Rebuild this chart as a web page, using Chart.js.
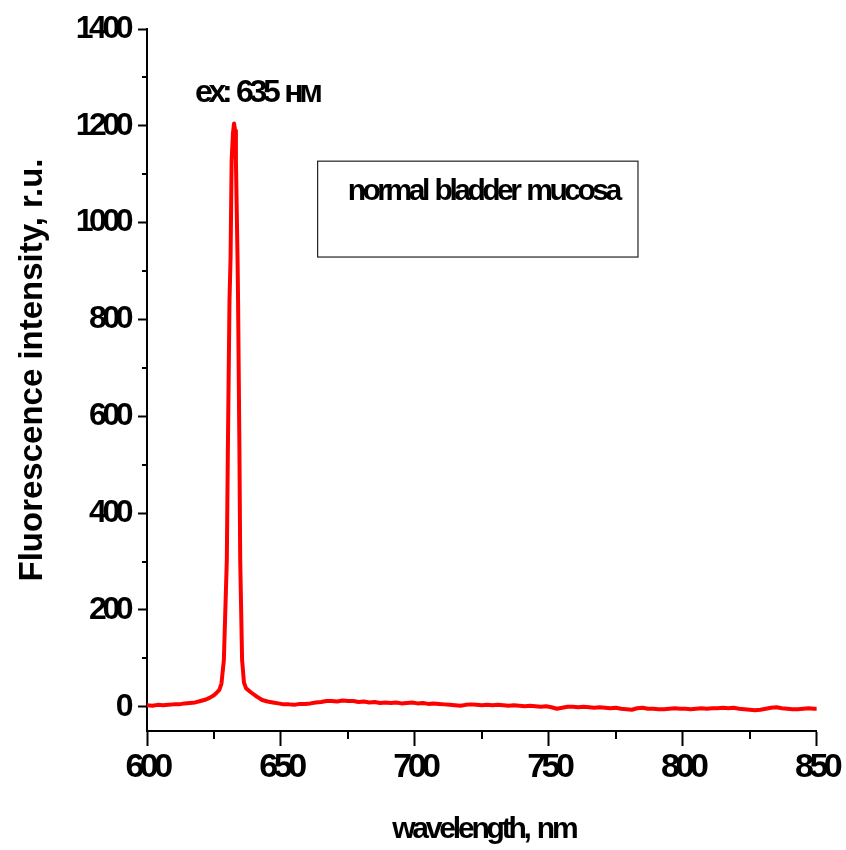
<!DOCTYPE html>
<html>
<head>
<meta charset="utf-8">
<script src="https://cdn.jsdelivr.net/npm/chart.js@4"></script>
<style>
  html, body { margin: 0; background: #fff; }
  canvas { display: block; }
</style>
</head>
<body>
<canvas id="espectroChart" width="846" height="850"></canvas>
<script>
const ctx = document.getElementById('espectroChart').getContext('2d');

// Longitud de onda (nm)
const longitudOnda = [
  600, 602, 604, 606, 608, 610, 612, 614, 616, 618, 620, 622, 623.5, 625, 626, 627,
  627.8, 628.7, 629.8, 630.2, 630.8, 631.2, 631.6, 632.1, 632.5, 632.9, 633.2, 633.8,
  634.0, 634.5, 634.8, 635.5, 636.2, 637, 639, 641, 643, 645, 647, 649, 651, 653, 655,
  657, 659, 661, 663, 665, 667, 669, 671, 673, 675, 677, 679, 681, 683, 685, 687, 689,
  691, 693, 695, 697, 699, 701, 703, 705, 707, 709, 711, 713, 715, 717, 719, 721, 723,
  725, 727, 729, 731, 733, 735, 737, 739, 741, 743, 745, 747, 749, 751, 753, 755, 757,
  759, 761, 763, 765, 767, 769, 771, 773, 775, 777, 779, 781, 783, 785, 787, 789, 791,
  793, 795, 797, 799, 801, 803, 805, 807, 809, 811, 813, 815, 817, 819, 821, 823, 825,
  827, 829, 831, 833, 835, 837, 839, 841, 843, 845, 847, 849, 850
];
// Intensidad de fluorescencia (u.r.)
const intensidad = [
  3, 2, 4, 3, 4, 5, 5, 7, 8, 9, 12, 15, 19, 24, 29, 35,
  48, 97, 303, 536, 839, 928, 1128, 1185, 1205, 1190, 1128, 928,
  839, 536, 303, 97, 50, 38, 29, 21, 14, 11, 9, 7, 5, 5, 4,
  6, 6, 7, 9, 10, 12, 12, 11, 13, 12, 12, 10, 11, 9, 10, 8, 9,
  8, 9, 7, 8, 9, 7, 8, 6, 7, 6, 5, 4, 3, 2, 4, 5, 4,
  3, 4, 3, 4, 3, 2, 3, 2, 1, 2, 1, 0, 1, -1, -4, -2, 0,
  0, -1, 0, -1, -2, -1, -2, -3, -2, -4, -5, -6, -3, -2, -4, -4, -5,
  -5, -4, -3, -4, -4, -5, -4, -3, -4, -3, -3, -2, -3, -2, -4, -5, -6,
  -7, -6, -4, -2, -1, -3, -4, -5, -5, -4, -3, -4, -4
];

const ticksX = [600, 650, 700, 750, 800, 850];
const ticksXMenores = [625, 675, 725, 775, 825];
const ticksY = [0, 200, 400, 600, 800, 1000, 1200, 1400];
const ticksYMenores = [100, 300, 500, 700, 900, 1100, 1300];

const tituloX = 'wavelength, nm';
const tituloY = 'Fluorescence intensity, r.u.';
const etiquetaPico = 'ex: 635 нм';
const etiquetaMuestra = 'normal bladder mucosa';

const FUENTE = "'Liberation Sans', Arial, sans-serif";

// Marcas menores, recuadro, textos y títulos de ejes
const extras = {
  id: 'extras',
  beforeDraw(chart) {
    chart.ctx.letterSpacing = '-4.5px';
  },
  afterDraw(chart) {
    const c = chart.ctx;
    const { x, y } = chart.scales;
    const area = chart.chartArea;
    c.save();
    c.strokeStyle = '#000';
    c.lineWidth = 2;
    c.beginPath();
    ticksXMenores.forEach(v => {
      const px = Math.round(x.getPixelForValue(v));
      c.moveTo(px, area.bottom);
      c.lineTo(px, area.bottom + 8);
    });
    ticksYMenores.forEach(v => {
      const py = Math.round(y.getPixelForValue(v));
      c.moveTo(area.left, py);
      c.lineTo(area.left - 5, py);
    });
    c.stroke();

    // recuadro de la muestra
    const bx1 = x.getPixelForValue(663.7), bx2 = x.getPixelForValue(783.3);
    const by1 = y.getPixelForValue(1127), by2 = y.getPixelForValue(929);
    c.lineWidth = 1.2;
    c.strokeStyle = '#222';
    c.strokeRect(bx1, by1, bx2 - bx1, by2 - by1);

    c.fillStyle = '#000';
    c.textAlign = 'center';
    c.textBaseline = 'alphabetic';
    c.wordSpacing = '3px';

    c.font = 'bold 30px ' + FUENTE;
    c.letterSpacing = '-3.5px';
    c.fillText(etiquetaMuestra, x.getPixelForValue(725.5), y.getPixelForValue(1047));

    c.font = 'bold 32px ' + FUENTE;
    c.letterSpacing = '-4.3px';
    c.fillText(etiquetaPico, x.getPixelForValue(641), y.getPixelForValue(1249));

    c.font = 'bold 30px ' + FUENTE;
    c.letterSpacing = '-3.2px';
    c.fillText(tituloX, (area.left + area.right) / 2 + 2, 838);

    c.wordSpacing = '0px';
    c.font = 'bold 33px ' + FUENTE;
    c.letterSpacing = '0px';
    c.translate(42, 370);
    c.rotate(-Math.PI / 2);
    c.fillText(tituloY, 0, 0);
    c.restore();
  }
};

new Chart(ctx, {
  type: 'line',
  data: {
    datasets: [{
      data: longitudOnda.map((w, i) => ({ x: w, y: intensidad[i] })),
      borderColor: '#ff0000',
      borderWidth: 4,
      borderJoinStyle: 'round',
      borderCapStyle: 'round',
      pointRadius: 0,
      tension: 0,
      fill: false
    }]
  },
  options: {
    responsive: false,
    animation: false,
    layout: { padding: { left: 0, right: 28, top: 29, bottom: 0 } },
    scales: {
      x: {
        type: 'linear',
        min: 600,
        max: 850,
        afterBuildTicks: s => { s.ticks = ticksX.map(v => ({ value: v })); },
        afterFit: s => { s.height = 119; },
        ticks: {
          color: '#000',
          padding: 1,
          callback: v => String(v),
          font: { family: FUENTE, size: 34, weight: 'bold' }
        },
        grid: {
          drawOnChartArea: false,
          tickLength: 15,
          tickWidth: 2,
          tickColor: '#000'
        },
        border: { display: true, color: '#000', width: 2 }
      },
      y: {
        min: -50,
        max: 1400,
        afterBuildTicks: s => { s.ticks = ticksY.map(v => ({ value: v })); },
        afterFit: s => { s.width = 147; },
        ticks: {
          color: '#000',
          padding: 9,
          callback: v => String(v),
          font: { family: FUENTE, size: 32, weight: 'bold' }
        },
        grid: {
          drawOnChartArea: false,
          tickLength: 9,
          tickWidth: 2,
          tickColor: '#000'
        },
        border: { display: true, color: '#000', width: 2 }
      }
    },
    plugins: {
      legend: { display: false },
      tooltip: { enabled: false }
    }
  },
  plugins: [extras]
});
</script>
</body>
</html>
